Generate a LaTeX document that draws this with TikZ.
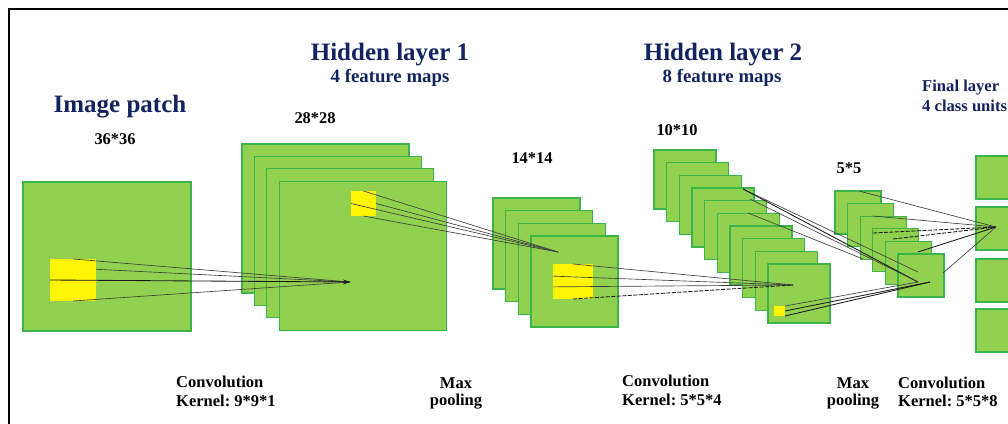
\documentclass[tikz,border=0pt]{standalone}
\usepackage{fontspec}
\setmainfont{Liberation Serif}
\usetikzlibrary{arrows.meta}
\definecolor{mapfill}{HTML}{92D050}
\definecolor{mapedge}{HTML}{3BB54A}
\definecolor{patch}{HTML}{FFF500}
\definecolor{navy}{HTML}{13235F}
\frenchspacing

\begin{document}
\begin{tikzpicture}[x=1pt,y=-1pt,
  fmap/.style={fill=mapfill,draw=mapedge,line width=1.1pt,inner sep=0pt,outer sep=0pt,anchor=north west},
  ypatch/.style={fill=patch,inner sep=0pt,outer sep=0pt,anchor=north west},
  title/.style={font=\bfseries\fontsize{25}{28}\selectfont,text=navy,anchor=base,inner sep=0pt},
  subtitle/.style={font=\bfseries\fontsize{18.8}{22}\selectfont,text=navy,anchor=base,inner sep=0pt},
  finallabel/.style={font=\bfseries\fontsize{16.6}{19}\selectfont,text=navy,anchor=base west,inner sep=0pt},
  dimlabel/.style={font=\bfseries\fontsize{16.4}{19}\selectfont,anchor=base,inner sep=0pt},
  oplabel/.style={font=\bfseries\fontsize{16.5}{19}\selectfont,anchor=base west,inner sep=0pt},
  poollabel/.style={font=\bfseries\fontsize{16.5}{19}\selectfont,anchor=base,inner sep=0pt},
  link/.style={draw=black!75,line width=0.65pt},
  darklink/.style={draw=black!90,line width=0.85pt},
]
\useasboundingbox (0,0) rectangle (1008,423);
\clip (0,0) rectangle (1008,423);

% frame
\draw[line width=2pt] (9,425) -- (9,9) -- (1010,9);

% ---------- input image patch ----------
\node[fmap,minimum width=168pt,minimum height=149pt] (img) at (23,182) {};
\node[ypatch,minimum width=46pt,minimum height=42pt] (ipy) at (50,259) {};

% ---------- hidden layer 1 (convolution) ----------
\foreach \i in {0,...,3}
  \node[fmap,minimum width=167pt,minimum height=149pt] (hA-\i) at ({242+12.4*\i},{144+12.4*\i}) {};
\node[ypatch,minimum width=25pt,minimum height=25pt] (hAy) at (351,191) {};

% ---------- hidden layer 1 (pooling) ----------
\foreach \i in {0,...,3}
  \node[fmap,minimum width=87pt,minimum height=91pt] (pA-\i) at ({493+12.67*\i},{198+12.67*\i}) {};
\node[ypatch,minimum width=40pt,minimum height=35pt] (pAy) at (553,264) {};

% ---------- hidden layer 2 (convolution) ----------
\foreach \i in {0,...,9}
  \node[fmap,minimum width=62pt,minimum height=59pt] (hB-\i) at ({654+12.67*\i},{150+12.67*\i}) {};
\node[ypatch,minimum width=11pt,minimum height=10pt] (hBy) at (774,306) {};

% ---------- hidden layer 2 (pooling) ----------
\foreach \i in {0,...,5}
  \node[fmap,minimum width=46pt,minimum height=43pt] (pB-\i) at ({835+12.6*\i},{191+12.6*\i}) {};

% ---------- final layer ----------
\node[fmap,minimum width=50pt,minimum height=43pt] (out-0) at (976,156) {};
\node[fmap,minimum width=50pt,minimum height=43pt] (out-1) at (976,207) {};
\node[fmap,minimum width=50pt,minimum height=43pt] (out-2) at (976,259) {};
\node[fmap,minimum width=50pt,minimum height=43pt] (out-3) at (976,309) {};

% ---------- receptive-field connectors ----------
\coordinate (tipA) at (350,282);
\draw[link] (ipy.north) -- (tipA);
\draw[link] (ipy.25) -- (tipA);
\draw[link] (ipy.south) -- (tipA);
\draw[darklink,-{Stealth[length=7pt,width=5pt]}] (ipy.west) -- (tipA);

\coordinate (tipB) at (558,252);
\draw[link] (hAy.north) -- (tipB);
\draw[link] (hAy.east) -- (tipB);
\draw[link] (hAy.west) -- (tipB);
\draw[link] (hAy.south) -- (tipB);

\coordinate (tipC) at (793,285);
\draw[link] (pAy.north) -- (tipC);
\draw[link] (pAy.165) -- (tipC);
\draw[link] (pAy.195) -- (tipC);
\draw[darklink,dashed,dash pattern=on 4pt off 1.5pt] (pAy.south) -- (tipC);

\coordinate (sB1) at (743,189);
\coordinate (sB2) at (750,199);
\coordinate (sB3) at (748,213);
\coordinate (tipD1) at (918,272);
\coordinate (tipD2) at (918,282);
\coordinate (tipD3) at (930,282);
\coordinate (tipD4) at (863,259);
\draw[link] (sB1) -- (tipD1);
\draw[darklink] (sB1) -- (tipD2);
\draw[link] (sB2) -- (tipD2);
\draw[link] (sB3) -- (tipD4);
\draw[darklink] (hBy.east) -- (tipD3);
\draw[link] (hBy.north east) -- (tipD2);
\draw[darklink] (hBy.south east) -- (tipD3);

\coordinate (tipE) at (996,227);
\coordinate (sE1) at (859,191);
\coordinate (sE2) at (873,216);
\coordinate (sE3) at (873,233);
\coordinate (sE4) at (893,239);
\coordinate (sE5) at (918,252);
\coordinate (sE6) at (943,273);
\draw[link] (sE1) -- (tipE);
\draw[link] (sE2) -- (tipE);
\draw[darklink,dashed,dash pattern=on 4pt off 1.5pt] (sE3) -- (tipE);
\draw[darklink,dashed,dash pattern=on 4pt off 1.5pt] (sE4) -- (tipE);
\draw[darklink] (sE5) -- (tipE);
\draw[link] (sE6) -- (tipE);

% ---------- headings ----------
\node[title] (tImg) at (120,112) {Image patch};
\node[dimlabel] (dImg) at (115,144) {36*36};

\node[title] (tHA) at (390,60) {Hidden layer 1};
\node[subtitle] (sHA) at (390,82) {4 feature maps};
\node[dimlabel] (dHA) at (315,123) {28*28};
\node[dimlabel] (dPA) at (532,163) {14*14};

\node[title] (tHB) at (723,60) {Hidden layer 2};
\node[subtitle] (sHB) at (722,82) {8 feature maps};
\node[dimlabel] (dHB) at (677,135) {10*10};
\node[dimlabel] (dPB) at (849,173) {5*5};

\node[finallabel] (tOut) at (922,91) {Final layer};
\node[finallabel] (sOut) at (922,111) {4 class units};

% ---------- operation labels ----------
\node[oplabel] (opA1) at (176,387) {Convolution};
\node[oplabel] (opA2) at (176,406) {Kernel: 9*9*1};
\node[poollabel] (opB1) at (456,388) {Max};
\node[poollabel] (opB2) at (456,405) {pooling};
\node[oplabel] (opC1) at (622,386) {Convolution};
\node[oplabel] (opC2) at (622,405) {Kernel: 5*5*4};
\node[poollabel] (opD1) at (853,388) {Max};
\node[poollabel] (opD2) at (853,405) {pooling};
\node[oplabel] (opE1) at (898,388) {Convolution};
\node[oplabel] (opE2) at (898,406) {Kernel: 5*5*8};
\end{tikzpicture}
\end{document}
